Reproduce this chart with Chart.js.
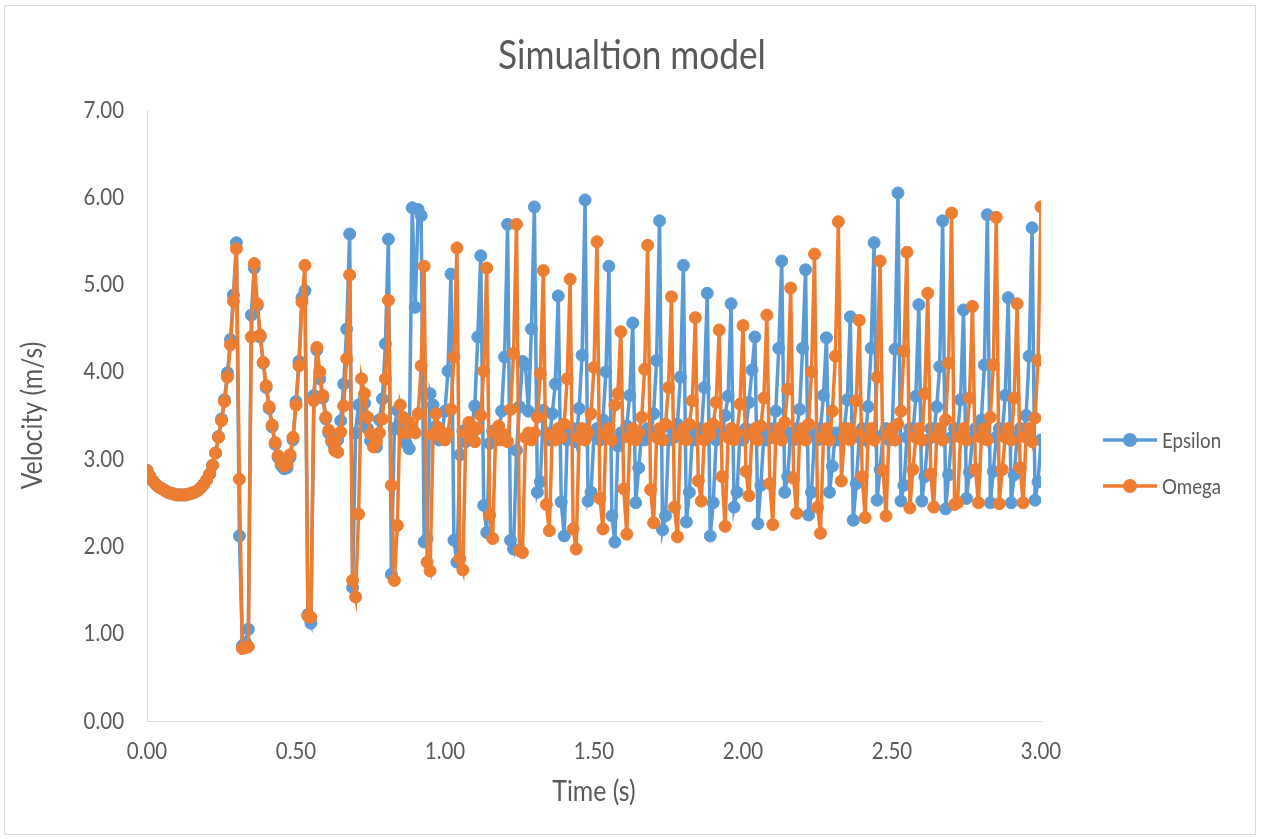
<!DOCTYPE html>
<html>
<head>
<meta charset="utf-8">
<script src="https://cdn.jsdelivr.net/npm/chart.js@4.4.1/dist/chart.umd.min.js"></script>
<style>
html,body{margin:0;padding:0;background:#ffffff;}
#wrap{position:absolute;left:0;top:0;width:1261px;height:839px;}
#frame{position:absolute;left:4px;top:5px;width:1252px;height:830px;border:1px solid #d9d9d9;box-sizing:border-box;pointer-events:none;}
canvas{position:absolute;left:0;top:0;}
</style>
</head>
<body>
<div id="wrap"><canvas id="c" width="1261" height="839"></canvas><div id="frame"></div></div>
<script>
const chartTitle = 'Simualtion model';
const xTitle = 'Time (s)';
const yTitle = 'Velocity (m/s)';
const seriesNames = ['Epsilon', 'Omega'];

const times = [
0.00,0.01,0.02,0.03,0.04,0.05,0.06,0.07,0.08,0.09,
0.10,0.11,0.12,0.13,0.14,0.15,0.16,0.17,0.18,0.19,
0.20,0.21,0.22,0.23,0.24,0.25,0.26,0.27,0.28,0.29,
0.30,0.31,0.32,0.33,0.34,0.35,0.36,0.37,0.38,0.39,
0.40,0.41,0.42,0.43,0.44,0.45,0.46,0.47,0.48,0.49,
0.50,0.51,0.52,0.53,0.54,0.55,0.56,0.57,0.58,0.59,
0.60,0.61,0.62,0.63,0.64,0.65,0.66,0.67,0.68,0.69,
0.70,0.71,0.72,0.73,0.74,0.75,0.76,0.77,0.78,0.79,
0.80,0.81,0.82,0.83,0.84,0.85,0.86,0.87,0.88,0.89,
0.90,0.91,0.92,0.93,0.94,0.95,0.96,0.97,0.98,0.99,
1.00,1.01,1.02,1.03,1.04,1.05,1.06,1.07,1.08,1.09,
1.10,1.11,1.12,1.13,1.14,1.15,1.16,1.17,1.18,1.19,
1.20,1.21,1.22,1.23,1.24,1.25,1.26,1.27,1.28,1.29,
1.30,1.31,1.32,1.33,1.34,1.35,1.36,1.37,1.38,1.39,
1.40,1.41,1.42,1.43,1.44,1.45,1.46,1.47,1.48,1.49,
1.50,1.51,1.52,1.53,1.54,1.55,1.56,1.57,1.58,1.59,
1.60,1.61,1.62,1.63,1.64,1.65,1.66,1.67,1.68,1.69,
1.70,1.71,1.72,1.73,1.74,1.75,1.76,1.77,1.78,1.79,
1.80,1.81,1.82,1.83,1.84,1.85,1.86,1.87,1.88,1.89,
1.90,1.91,1.92,1.93,1.94,1.95,1.96,1.97,1.98,1.99,
2.00,2.01,2.02,2.03,2.04,2.05,2.06,2.07,2.08,2.09,
2.10,2.11,2.12,2.13,2.14,2.15,2.16,2.17,2.18,2.19,
2.20,2.21,2.22,2.23,2.24,2.25,2.26,2.27,2.28,2.29,
2.30,2.31,2.32,2.33,2.34,2.35,2.36,2.37,2.38,2.39,
2.40,2.41,2.42,2.43,2.44,2.45,2.46,2.47,2.48,2.49,
2.50,2.51,2.52,2.53,2.54,2.55,2.56,2.57,2.58,2.59,
2.60,2.61,2.62,2.63,2.64,2.65,2.66,2.67,2.68,2.69,
2.70,2.71,2.72,2.73,2.74,2.75,2.76,2.77,2.78,2.79,
2.80,2.81,2.82,2.83,2.84,2.85,2.86,2.87,2.88,2.89,
2.90,2.91,2.92,2.93,2.94,2.95,2.96,2.97,2.98,2.99,
3.00];

const epsilon = [
2.87,2.80,2.75,2.71,2.68,2.66,2.64,2.62,2.61,2.60,
2.59,2.59,2.59,2.59,2.60,2.61,2.62,2.64,2.67,2.71,
2.76,2.83,2.93,3.07,3.26,3.46,3.68,3.99,4.37,4.88,
5.48,2.12,0.86,0.90,1.05,4.65,5.19,4.76,4.40,4.10,
3.82,3.58,3.37,3.17,3.02,2.93,2.89,2.90,3.02,3.22,
3.66,4.12,4.85,4.93,1.22,1.12,3.73,4.25,3.92,3.70,
3.46,3.30,3.20,3.13,3.22,3.44,3.86,4.49,5.58,1.53,
3.30,3.62,3.45,3.64,3.35,3.21,3.18,3.14,3.45,3.69,
4.32,5.52,1.68,3.35,3.56,3.44,3.30,3.18,3.12,5.88,
4.74,5.86,5.79,2.05,2.09,3.75,3.62,3.38,3.22,3.30,
3.55,4.01,5.12,2.07,1.82,3.05,3.32,3.20,3.26,3.38,
3.61,4.40,5.33,2.47,2.16,3.18,3.32,3.22,3.30,3.55,
4.17,5.69,2.07,1.97,3.10,3.60,4.12,4.08,3.55,4.49,
5.89,2.62,2.74,3.56,3.30,3.22,3.52,3.86,4.87,2.51,
2.12,3.22,3.30,3.35,3.20,3.58,4.19,5.97,2.52,2.62,
3.28,3.35,3.22,3.45,4.00,5.21,2.35,2.05,3.15,3.30,
3.25,3.38,3.73,4.56,2.50,2.90,3.30,3.22,3.35,3.28,
3.52,4.13,5.73,2.19,2.35,3.22,3.35,3.25,3.40,3.94,
5.22,2.28,2.62,3.28,3.22,3.35,3.30,3.82,4.90,2.12,
2.50,3.22,3.35,3.28,3.50,3.72,4.78,2.45,2.62,3.30,
3.22,3.35,3.65,4.02,4.40,2.26,2.70,3.28,3.22,3.35,
3.25,3.55,4.27,5.27,2.62,2.80,3.30,3.22,3.35,3.57,
4.27,5.17,2.36,2.62,3.28,3.22,3.35,3.73,4.39,2.62,
2.92,3.30,3.22,3.28,3.35,3.68,4.63,2.30,2.72,3.25,
3.35,3.22,3.60,4.27,5.48,2.53,2.88,3.28,3.35,3.22,
3.30,4.26,6.05,2.52,2.70,3.25,3.35,3.28,3.72,4.77,
2.52,2.80,3.22,3.35,3.28,3.60,4.06,5.73,2.43,2.82,
3.25,3.35,3.28,3.68,4.71,2.55,2.85,3.25,3.35,3.28,
3.45,4.08,5.80,2.50,2.86,3.25,3.35,3.30,3.73,4.85,
2.50,2.82,3.25,3.35,3.28,3.50,4.18,5.65,2.53,2.74,
3.22];

const omega = [
2.87,2.80,2.75,2.71,2.68,2.66,2.64,2.62,2.61,2.60,
2.59,2.59,2.59,2.59,2.60,2.61,2.62,2.64,2.67,2.71,
2.76,2.83,2.93,3.07,3.25,3.44,3.66,3.94,4.31,4.81,
5.41,2.77,0.83,0.84,0.85,4.40,5.24,4.78,4.42,4.11,
3.84,3.60,3.39,3.19,3.04,2.96,2.92,2.94,3.05,3.25,
3.62,4.07,4.80,5.22,1.20,1.19,3.67,4.28,4.00,3.73,
3.48,3.33,3.21,3.10,3.08,3.31,3.61,4.15,5.11,1.61,
1.42,2.37,3.92,3.75,3.48,3.29,3.14,3.20,3.30,3.46,
3.92,4.82,2.70,1.61,2.24,3.62,3.48,3.30,3.42,3.35,
3.30,3.52,4.07,5.21,1.82,1.72,3.28,3.52,3.35,3.25,
3.22,3.29,3.57,4.17,5.42,1.86,1.73,3.30,3.42,3.25,
3.20,3.35,3.50,4.01,5.19,2.36,2.09,3.30,3.38,3.22,
3.28,3.20,3.57,4.21,5.69,1.95,1.93,3.25,3.30,3.22,
3.30,3.48,3.98,5.16,2.48,2.18,3.28,3.22,3.35,3.25,
3.40,3.92,5.06,2.20,1.97,3.25,3.35,3.22,3.30,3.52,
4.05,5.49,2.55,2.20,3.28,3.35,3.22,3.62,3.75,4.46,
2.66,2.14,3.25,3.35,3.22,3.30,3.48,4.03,5.45,2.65,
2.27,3.25,3.35,3.22,3.40,3.82,4.86,2.45,2.11,3.28,
3.35,3.22,3.40,3.67,4.62,2.75,2.52,3.22,3.35,3.28,
3.40,3.65,4.48,2.80,2.23,3.25,3.35,3.22,3.30,3.63,
4.53,2.86,2.58,3.28,3.35,3.22,3.38,3.70,4.65,2.72,
2.25,3.25,3.35,3.22,3.42,3.80,4.96,2.78,2.38,3.25,
3.35,3.22,3.40,4.00,5.35,2.45,2.15,3.25,3.35,3.22,
3.55,4.18,5.72,2.75,3.25,3.35,3.22,3.30,3.67,4.59,
2.80,2.33,3.25,3.35,3.22,3.94,5.27,2.87,2.35,3.28,
3.35,3.22,3.40,3.55,4.24,5.37,2.44,2.88,3.25,3.35,
3.22,3.75,4.90,2.83,2.45,3.25,3.35,3.22,3.45,4.10,
5.82,2.48,2.50,3.25,3.35,3.22,3.70,4.75,2.88,2.50,
3.25,3.35,3.22,3.48,4.08,5.77,2.49,2.88,3.25,3.35,
3.22,3.70,4.78,2.90,2.50,3.25,3.35,3.20,3.47,4.13,
5.89];

const xTickValues = [0, 0.5, 1, 1.5, 2, 2.5, 3];
const yTickValues = [0, 1, 2, 3, 4, 5, 6, 7];

const BLUE = '#5B9BD5';
const ORANGE = '#ED7D31';
const TEXT = '#595959';
const AXIS = '#d9d9d9';
const FONT = "Lato, 'Open Sans', sans-serif";
const TEXT_SQUEEZE = 0.87;

// Narrow the glyphs horizontally (the reference text is a narrow face)
(function () {
  const proto = CanvasRenderingContext2D.prototype;
  const orig = proto.fillText;
  proto.fillText = function (text, x, y, maxWidth) {
    this.save();
    this.translate(x, y);
    this.scale(TEXT_SQUEEZE, 1);
    if (maxWidth === undefined) orig.call(this, text, 0, 0);
    else orig.call(this, text, 0, 0, maxWidth / TEXT_SQUEEZE);
    this.restore();
  };
})();

function toPoints(xs, ys) { return xs.map((x, i) => ({x: x, y: ys[i]})); }

const decorPlugin = {
  id: 'titleAndLegend',
  afterDraw(chart) {
    const ctx = chart.ctx;
    ctx.save();
    // title
    ctx.fillStyle = TEXT;
    ctx.font = "40.5px " + FONT;
    ctx.textAlign = 'center';
    ctx.textBaseline = 'middle';
    ctx.fillText(chartTitle, 632, 56);
    // legend
    const rows = [440, 486];
    chart.data.datasets.forEach((ds, i) => {
      const y = rows[i];
      ctx.strokeStyle = ds.borderColor;
      ctx.lineWidth = 3.5;
      ctx.beginPath();
      ctx.moveTo(1103, y);
      ctx.lineTo(1157, y);
      ctx.stroke();
      ctx.fillStyle = ds.borderColor;
      ctx.beginPath();
      ctx.arc(1130, y, 7, 0, Math.PI * 2);
      ctx.fill();
      ctx.fillStyle = TEXT;
      ctx.font = "21.5px " + FONT;
      ctx.textAlign = 'left';
      ctx.textBaseline = 'middle';
      ctx.fillText(ds.label, 1162, y + 1);
    });
    ctx.restore();
  }
};

const ctx = document.getElementById('c').getContext('2d');
new Chart(ctx, {
  type: 'line',
  data: {
    datasets: [
      {
        label: seriesNames[0],
        data: toPoints(times, epsilon),
        borderColor: BLUE,
        backgroundColor: BLUE,
        pointBackgroundColor: BLUE,
        pointBorderColor: BLUE,
        borderWidth: 3.5,
        pointRadius: 6,
        pointBorderWidth: 1,
        tension: 0,
        order: 1
      },
      {
        label: seriesNames[1],
        data: toPoints(times, omega),
        borderColor: ORANGE,
        backgroundColor: ORANGE,
        pointBackgroundColor: ORANGE,
        pointBorderColor: ORANGE,
        borderWidth: 3.5,
        pointRadius: 6,
        pointBorderWidth: 1,
        tension: 0,
        order: 0
      }
    ]
  },
  options: {
    responsive: false,
    animation: false,
    devicePixelRatio: 1,
    layout: {padding: {left: 0, right: 220, top: 110, bottom: 0}},
    plugins: {
      legend: {display: false},
      tooltip: {enabled: false},
      title: {display: false}
    },
    scales: {
      x: {
        type: 'linear',
        min: 0,
        max: 3,
        afterBuildTicks(scale) { scale.ticks = xTickValues.map(v => ({value: v})); },
        afterFit(scale) { scale.height = 118; },
        grid: {display: false, drawTicks: false},
        border: {display: true, color: AXIS, width: 1},
        ticks: {
          color: TEXT,
          padding: 16,
          maxRotation: 0,
          autoSkip: false,
          font: {family: FONT, size: 23.5},
          callback: v => Number(v).toFixed(2)
        },
        title: {
          display: true,
          text: xTitle,
          color: TEXT,
          font: {family: FONT, size: 28.5},
          padding: {top: 0, bottom: 30}
        }
      },
      y: {
        min: 0,
        max: 7,
        afterBuildTicks(scale) { scale.ticks = yTickValues.map(v => ({value: v})); },
        afterFit(scale) { scale.width = 147; },
        grid: {display: false, drawTicks: false},
        border: {display: true, color: AXIS, width: 1},
        ticks: {
          color: TEXT,
          padding: 23,
          font: {family: FONT, size: 23.5},
          callback: v => Number(v).toFixed(2)
        },
        title: {
          display: true,
          text: yTitle,
          color: TEXT,
          font: {family: FONT, size: 28.5},
          padding: {top: 16, bottom: 0}
        }
      }
    }
  },
  plugins: [decorPlugin]
});
</script>
</body>
</html>
